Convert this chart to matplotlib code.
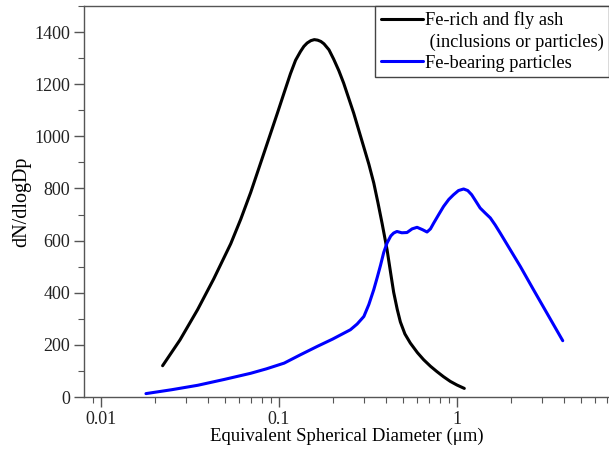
import numpy as np
import matplotlib
matplotlib.use("Agg")
import matplotlib.pyplot as plt
from matplotlib.ticker import LogLocator, MultipleLocator, FixedLocator, FixedFormatter

# Fe-rich and fly ash (inclusions or particles)
d_ash = [0.0222, 0.0278, 0.0349, 0.043, 0.0536, 0.061, 0.0694, 0.0824, 0.098,
         0.107, 0.116, 0.124, 0.132, 0.138, 0.144, 0.151, 0.158, 0.165, 0.172,
         0.179, 0.191, 0.203, 0.217, 0.231, 0.263, 0.299, 0.32, 0.341, 0.36,
         0.380, 0.405, 0.425, 0.441, 0.462, 0.481, 0.51, 0.547, 0.60,
         0.65, 0.71, 0.77, 0.84, 0.917, 1.0, 1.1]
n_ash = [120, 219, 335, 453, 588, 682, 785, 936, 1089,
         1168, 1240, 1292, 1325, 1345, 1358, 1367, 1371, 1369, 1364,
         1355, 1332, 1296, 1252, 1204, 1089, 961, 893, 821, 745,
         665, 565, 472, 402, 336, 288, 242, 207, 170,
         143, 118, 98, 78, 60, 46, 33]

# Fe-bearing particles
d_fe = [0.0179, 0.025, 0.035, 0.049, 0.0694, 0.085, 0.107, 0.132, 0.164, 0.20,
        0.252, 0.275, 0.30, 0.32, 0.341, 0.357, 0.372, 0.388, 0.405, 0.425,
        0.441, 0.46, 0.49, 0.524, 0.56, 0.597, 0.64, 0.679, 0.71, 0.74,
        0.79, 0.841, 0.90, 0.957, 1.02, 1.09, 1.15, 1.21, 1.28, 1.35,
        1.44, 1.54, 1.64, 1.75, 2.27, 2.69, 3.93]
n_fe = [13, 28, 45, 67, 91, 108, 130, 162, 194, 222,
        258, 280, 309, 355, 412, 460, 505, 555, 591, 618,
        629, 635, 630, 631, 645, 651, 642, 633, 645, 667,
        700, 731, 758, 776, 792, 798, 792, 776, 750, 725,
        706, 687, 660, 629, 501, 412, 216]

x_ticks = [0.01, 0.1, 1]
x_labels = ["0.01", "0.1", "1"]

plt.rcParams['font.family'] = ['Liberation Serif', 'DejaVu Serif']

fig = plt.figure(figsize=(6.09, 4.53), dpi=100)
ax = fig.add_axes([84 / 609, 56 / 453, 1 - 84 / 609, 391 / 453])

line_kw = dict(lw=2.2, solid_joinstyle='round', solid_capstyle='round')
ax.plot(d_ash, n_ash, color='black', label='Fe-rich and fly ash', **line_kw)
ax.plot([], [], color='none', label=' (inclusions or particles)')
ax.plot(d_fe, n_fe, color='#0000ff', label='Fe-bearing particles', **line_kw)

ax.set_xscale('log')
ax.set_xlim(0.00803, 7.15)
ax.set_ylim(0, 1500)

ax.xaxis.set_major_locator(FixedLocator(x_ticks))
ax.xaxis.set_major_formatter(FixedFormatter(x_labels))
ax.xaxis.set_minor_locator(LogLocator(base=10, subs=np.arange(2, 10)))
ax.yaxis.set_major_locator(MultipleLocator(200))
ax.yaxis.set_minor_locator(MultipleLocator(100))

for s in ['left', 'bottom', 'top']:
    ax.spines[s].set_color('#555555')
    ax.spines[s].set_linewidth(1.0)
ax.spines['right'].set_visible(False)

ax.tick_params(which='both', direction='out', colors='#555555', labelcolor='#222222',
               top=False, right=False)
ax.tick_params(which='major', length=7, width=1.0, labelsize=13, pad=3)
ax.tick_params(which='minor', length=4, width=0.8)

ax.set_xlabel('Equivalent Spherical Diameter (\u03bcm)', fontsize=13.5, labelpad=0)
ax.set_ylabel('dN/dlogDp', fontsize=14.5, labelpad=2)

leg = ax.legend(loc='upper right', bbox_to_anchor=(1.0, 1.0), borderaxespad=0,
                fontsize=13.2, frameon=True, fancybox=False, framealpha=1,
                edgecolor='#444444', handlelength=2.3, handletextpad=0.1,
                labelspacing=0.22, borderpad=0.3)
leg.get_frame().set_linewidth(1.0)

fig.savefig('out.png', dpi=100)
